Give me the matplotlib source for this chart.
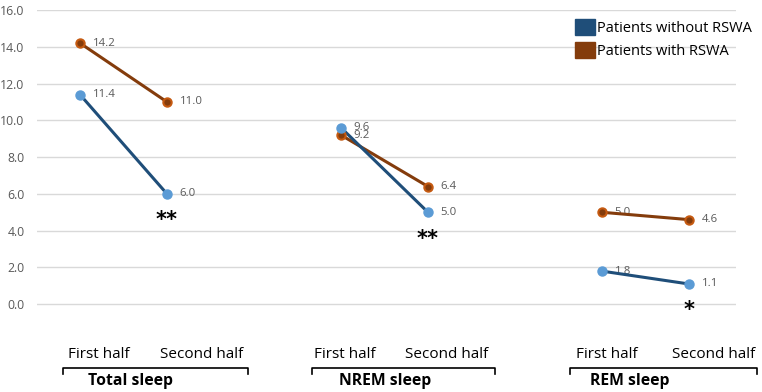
import matplotlib.pyplot as plt
from matplotlib.patches import Patch
from matplotlib.lines import Line2D

plt.rcParams['font.family'] = ['Open Sans', 'DejaVu Sans']

groups = ["Total sleep", "NREM sleep", "REM sleep"]
halves = ["First half", "Second half"]
without_rswa = [[11.4, 6.0], [9.6, 5.0], [1.8, 1.1]]
with_rswa = [[14.2, 11.0], [9.2, 6.4], [5.0, 4.6]]
stars = ["**", "**", "*"]
yticks = [0, 2, 4, 6, 8, 10, 12, 14, 16]

W, H = 762, 392
fig = plt.figure(figsize=(W / 100, H / 100), dpi=100)
ax = fig.add_axes([37 / W, (H - 341) / H, (736 - 37) / W, (341 - 10) / H])

grey = "#595959"
blue_line, blue_mark = "#1F4E79", "#5B9BD5"
brown_line, brown_mark = "#843C0C", "#C55A11"

for g in range(len(groups)):
    xs = [g * 3, g * 3 + 1]
    ax.plot(xs, with_rswa[g], "-", color=brown_line, lw=2.2, zorder=3)
    ax.plot(xs, with_rswa[g], "o", ms=6, mfc=brown_line, mec=brown_mark, mew=1.5, zorder=4)
    ax.plot(xs, without_rswa[g], "-", color=blue_line, lw=2.2, zorder=3)
    ax.plot(xs, without_rswa[g], "o", ms=6.5, mfc=blue_mark, mec=blue_mark, zorder=4)
    for x, v in zip(xs, with_rswa[g]):
        ax.annotate(f"{v:.1f}", (x, v), xytext=(9, 0), textcoords="offset points",
                    va="center", ha="left", fontsize=8.2, color=grey, zorder=2)
    for x, v in zip(xs, without_rswa[g]):
        ax.annotate(f"{v:.1f}", (x, v), xytext=(9, 0), textcoords="offset points",
                    va="center", ha="left", fontsize=8.2, color=grey, zorder=2)
    ax.annotate(stars[g], (xs[1], without_rswa[g][1]), xytext=(0, -19),
                textcoords="offset points", ha="center", va="center",
                fontsize=15, fontweight="bold", color="black", family="DejaVu Sans")

ax.set_ylim(-2, 16)
ax.set_xlim(-0.494, 7.54)
ax.set_yticks(yticks)
ax.set_yticklabels([f"{t:.1f}" for t in yticks], fontsize=8.8, color=grey)
ax.tick_params(axis="y", length=0, pad=9)
ax.set_xticks([])
ax.grid(axis="y", color="#D9D9D9", lw=1)
ax.set_axisbelow(True)
for s in ax.spines.values():
    s.set_visible(False)

# category labels and brackets under the plot
label_px = [(99, 202), (345, 447), (607, 714)]
bracket_px = [(63, 248), (312, 495), (570, 757)]
title_px = [130, 385, 630]
for g in range(len(groups)):
    for lx, h in zip(label_px[g], halves):
        fig.text(lx / W, 1 - 355 / H, h, ha="center", va="center", fontsize=11, color="black")
    x0, x1 = bracket_px[g]
    fig.add_artist(Line2D([x0 / W, x0 / W, x1 / W, x1 / W],
                          [1 - 374 / H, 1 - 368 / H, 1 - 368 / H, 1 - 374 / H],
                          color="black", lw=1.2))
    fig.text(title_px[g] / W, 1 - 381 / H, groups[g], ha="center", va="center",
             fontsize=11.3, fontweight="bold", color="black")

handles = [Patch(facecolor=blue_line, edgecolor=blue_line),
           Patch(facecolor=brown_line, edgecolor=brown_line)]
fig.legend(handles, ["Patients without RSWA", "Patients with RSWA"],
           loc="upper left", bbox_to_anchor=(572 / W, 1 - 16 / H),
           frameon=False, fontsize=10.5, handlelength=1.35, handleheight=1.35,
           handletextpad=0.15, labelspacing=0.4, borderaxespad=0, borderpad=0.2)

fig.savefig("out.png", dpi=100)
